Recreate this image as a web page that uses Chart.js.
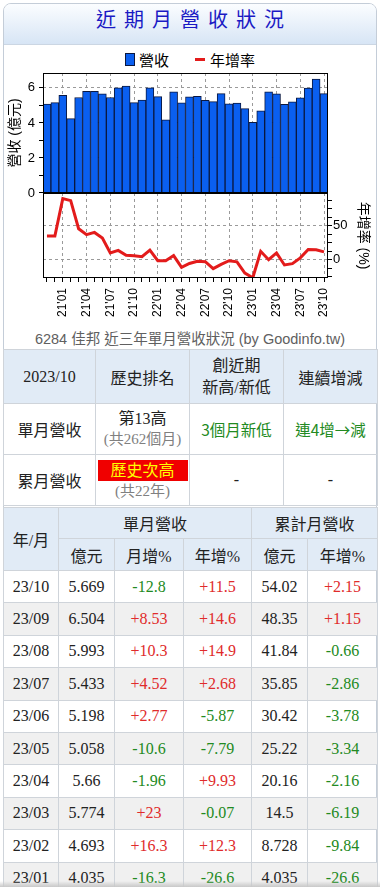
<!DOCTYPE html>
<html lang="zh-Hant">
<head>
<meta charset="utf-8">
<script src="https://cdn.jsdelivr.net/npm/chart.js@4.4.1/dist/chart.umd.min.js"></script>
<style>
  html, body { margin: 0; padding: 0; background: #fff; overflow: hidden; }
  body { width: 380px; height: 887px; position: relative; font-family: "Liberation Sans", "Noto Sans CJK TC", sans-serif; }
  .box { position: absolute; left: 3px; top: 3px; width: 372px; height: 900px; border: 1px solid #c4cdd8; border-radius: 8px 8px 0 0; background: #fff; }
  .hdr { position: absolute; left: 4px; top: 4px; width: 372px; height: 41px; border-radius: 7px 7px 0 0;
         background: linear-gradient(#fbfdff, #d7e5f5); border-bottom: 1px solid #cbd6e3;
         text-align: center; line-height: 45px; font: 20px "Noto Sans CJK TC", sans-serif; color: #1a1ac4;
         letter-spacing: 8px; padding-left: 8px; box-sizing: border-box; }
  .leyenda { position: absolute; left: 4px; top: 46px; width: 372px; height: 26px; display: flex; justify-content: center; align-items: center;
             font: 15px "Noto Sans CJK TC", sans-serif; color: #000; }
  .leyenda .sq { width: 8px; height: 11px; background: #0a5ff0; border: 1px solid #0b1840; margin-right: 4px; }
  .leyenda .ln { width: 10px; height: 3px; background: #e31b1b; margin-left: 26px; margin-right: 5px; }
  .graf { position: absolute; left: 4px; top: 72px; width: 372px; height: 255px; }
  .pie { position: absolute; left: 4px; top: 327px; width: 372px; height: 20px; line-height: 20px; text-align: center;
         font: 14.5px "Liberation Sans", "Noto Sans CJK TC", sans-serif; color: #606060; }
  table { position: absolute; left: 3px; border-collapse: collapse; table-layout: fixed; width: 374px; }
  td { border: 1px solid #cfd4da; padding: 0; text-align: center; vertical-align: middle;
       font: 16px "Liberation Serif", "Noto Sans CJK TC", serif; color: #222; }
  .t1 { top: 349px; }
  .t2 { top: 507px; }
  .hd td { background: #e1ebf6; }
  .sub { color: #808080; font-size: 15px; }
  .rk { display: inline-block; width: 90px; height: 21px; line-height: 21px; background: #f00000; color: #ffff00; }
  .g { color: #228a22; }
  .r { color: #e02b2b; }
  td.sans { font-family: "Noto Sans CJK TC", sans-serif; font-size: 15.5px; }
  .gris td { background: #f0f0f0; }
  .sombra { position: absolute; left: 0; top: 881px; width: 380px; height: 6px; background: linear-gradient(rgba(200,200,200,0), #c8c8c8); }
</style>
</head>
<body>
<div class="box"></div>
<div class="hdr">近期月營收狀況</div>
<div class="leyenda"><span class="sq"></span>營收<span class="ln"></span>年增率</div>
<div class="graf"><canvas id="grafico" width="372" height="255"></canvas></div>
<div class="pie">6284 佳邦 近三年單月營收狀況 (by Goodinfo.tw)</div>

<table class="t1">
  <colgroup><col style="width:92px"><col style="width:94px"><col style="width:94px"><col style="width:94px"></colgroup>
  <tr class="hd"><td style="height:53px">2023/10</td><td>歷史排名</td><td style="line-height:22px">創近期<br>新高/新低</td><td>連續增減</td></tr>
  <tr><td style="height:50px">單月營收</td><td style="line-height:20px">第13高<br><span class="sub">(共262個月)</span></td><td class="g sans">3個月新低</td><td class="g sans">連4增→減</td></tr>
  <tr><td style="height:50px">累月營收</td><td style="line-height:20px"><span class="rk">歷史次高</span><br><span class="sub">(共22年)</span></td><td>-</td><td>-</td></tr>
</table>

<table class="t2" id="tabla">
  <colgroup><col style="width:55px"><col style="width:56px"><col style="width:69px"><col style="width:68px"><col style="width:56px"><col style="width:70px"></colgroup>
  <tr class="hd"><td rowspan="2">年/月</td><td colspan="3" style="height:30px">單月營收</td><td colspan="2">累計月營收</td></tr>
  <tr class="hd"><td style="height:31px">億元</td><td>月增%</td><td>年增%</td><td>億元</td><td>年增%</td></tr>
</table>
<div class="sombra"></div>

<script>
/* ===================== DATOS DEL GRÁFICO ===================== */
const meses = [
  "20'11", "20'12",
  "21'01", "21'02", "21'03", "21'04", "21'05", "21'06", "21'07", "21'08", "21'09", "21'10", "21'11", "21'12",
  "22'01", "22'02", "22'03", "22'04", "22'05", "22'06", "22'07", "22'08", "22'09", "22'10", "22'11", "22'12",
  "23'01", "23'02", "23'03", "23'04", "23'05", "23'06", "23'07", "23'08", "23'09", "23'10",
];

// 營收 (億元)
const ingresos = [
  5.07, 5.16,
  5.58, 4.25, 5.45, 5.81, 5.81, 5.66, 5.45, 6.0, 6.1, 5.16, 5.31, 6.0,
  5.497, 4.179, 5.778, 5.149, 5.485, 5.522, 5.291, 5.216, 5.675, 5.084, 5.14, 4.82,
  4.035, 4.693, 5.774, 5.66, 5.058, 5.198, 5.433, 5.993, 6.504, 5.669,
];

// 年增率 (%)
const crecimiento = [
  35, 35,
  90, 87, 45.6, 36.8, 40.2, 32, 9.8, 13.7, 6.4, 5.9, 4.4, 14.2,
  -1.5, -1.7, 6.0, -11.4, -5.6, -2.4, -2.9, -13.1, -7.0, -1.5, -3.2, -19.7,
  -26.6, 12.3, -0.07, 9.93, -7.79, -5.87, 2.68, 14.9, 14.6, 11.5,
];

const mesesEtiqueta = ["01", "04", "07", "10"];

/* ===================== DATOS DE LA TABLA ===================== */
const tablaMes = ["23/10", "23/09", "23/08", "23/07", "23/06", "23/05", "23/04", "23/03", "23/02", "23/01"];
const tablaMonto = ["5.669", "6.504", "5.993", "5.433", "5.198", "5.058", "5.66", "5.774", "4.693", "4.035"];
const tablaMensual = ["-12.8", "+8.53", "+10.3", "+4.52", "+2.77", "-10.6", "-1.96", "+23", "+16.3", "-16.3"];
const tablaAnual = ["+11.5", "+14.6", "+14.9", "+2.68", "-5.87", "-7.79", "+9.93", "-0.07", "+12.3", "-26.6"];
const tablaAcum = ["54.02", "48.35", "41.84", "35.85", "30.42", "25.22", "20.16", "14.5", "8.728", "4.035"];
const tablaAcumAnual = ["+2.15", "+1.15", "-0.66", "-2.86", "-3.78", "-3.34", "-2.16", "-6.19", "-9.84", "-26.6"];

function color(v) {
  return v.startsWith("-") ? "g" : "r";
}

const tabla = document.getElementById("tabla");
tablaMes.forEach((m, i) => {
  const tr = document.createElement("tr");
  if (i % 2 === 1) tr.className = "gris";
  tr.innerHTML =
    `<td style="height:31.4px">${m}</td>` +
    `<td>${tablaMonto[i]}</td>` +
    `<td class="${color(tablaMensual[i])}">${tablaMensual[i]}</td>` +
    `<td class="${color(tablaAnual[i])}">${tablaAnual[i]}</td>` +
    `<td>${tablaAcum[i]}</td>` +
    `<td class="${color(tablaAcumAnual[i])}">${tablaAcumAnual[i]}</td>`;
  tabla.appendChild(tr);
});

/* ===================== GRÁFICO ===================== */
Chart.defaults.font.family = '"Liberation Sans", "Noto Sans CJK TC", sans-serif';
Chart.defaults.color = "#000";

const conEtiqueta = (i) => mesesEtiqueta.includes(meses[i].slice(3));

const anchoIzq = (s) => { s.width = 39; s.paddingTop = 0; s.paddingBottom = 0; };
const anchoDer = (s) => { s.width = 48; s.paddingTop = 0; s.paddingBottom = 0; };

// marco negro del área + línea base de las barras
const marco = {
  id: "marco",
  afterDatasetsDraw(chart) {
    const { ctx, chartArea: a, scales } = chart;
    ctx.save();
    ctx.strokeStyle = "#000";
    ctx.lineWidth = 1;
    ctx.strokeRect(a.left + 0.5, a.top + 0.5, a.width - 1, a.height - 1);
    ctx.lineWidth = 2;
    ctx.beginPath();
    const y0 = scales.yBar.getPixelForValue(0);
    ctx.moveTo(a.left, y0);
    ctx.lineTo(a.right, y0);
    ctx.stroke();
    ctx.restore();
  },
};

new Chart(document.getElementById("grafico"), {
  type: "bar",
  data: {
    labels: meses,
    datasets: [
      {
        type: "line",
        label: "年增率",
        data: crecimiento,
        yAxisID: "yRate",
        borderColor: "#e31b1b",
        borderWidth: 3,
        pointRadius: 0,
        tension: 0,
        order: 0,
      },
      {
        label: "營收",
        data: ingresos,
        yAxisID: "yBar",
        backgroundColor: "#0a5ff0",
        borderColor: "#0b1840",
        borderWidth: 1,
        categoryPercentage: 1,
        barPercentage: 1,
        order: 1,
      },
    ],
  },
  plugins: [marco],
  options: {
    responsive: false,
    animation: false,
    layout: { padding: { top: 1, left: 0, right: 0, bottom: 0 } },
    plugins: { legend: { display: false }, tooltip: { enabled: false } },
    scales: {
      x: {
        grid: {
          offset: false,
          color: (c) => (conEtiqueta(c.index) ? "#9a9a9a" : "transparent"),
          tickColor: "#000",
          tickLength: 4,
        },
        border: { display: false, dash: [3, 3] },
        ticks: {
          autoSkip: false,
          minRotation: 90,
          maxRotation: 90,
          padding: 6,
          font: { size: 12 },
          callback: (v, i) => (conEtiqueta(i) ? meses[i] : ""),
        },
        afterFit: (s) => { s.height = 49; s.paddingLeft = 0; s.paddingRight = 0; },
      },
      yL2: {
        position: "left",
        stack: "L",
        stackWeight: 85,
        ticks: { display: false },
        grid: { display: false },
        border: { display: false },
        afterFit: anchoIzq,
      },
      yBar: {
        position: "left",
        stack: "L",
        stackWeight: 120,
        min: 0,
        max: 6.85,
        ticks: {
          stepSize: 1,
          includeBounds: false,
          autoSkip: false,
          padding: 4,
          font: { size: 13 },
          callback: (v) => (v % 2 === 0 ? v : ""),
        },
        grid: {
          color: (c) => (c.tick && c.tick.value > 0 && c.tick.value % 2 === 0 ? "#9a9a9a" : "transparent"),
          tickColor: "#000",
          tickLength: 4,
        },
        border: { display: false, dash: [3, 3] },
        title: { display: true, text: "營收 (億元)", font: { size: 14 }, padding: { top: 3, bottom: 0 } },
        afterFit: anchoIzq,
      },
      yR1: {
        position: "right",
        stack: "R",
        stackWeight: 120,
        ticks: { display: false },
        grid: { display: false },
        border: { display: false },
        afterFit: anchoDer,
      },
      yRate: {
        position: "right",
        stack: "R",
        stackWeight: 85,
        min: -27,
        max: 98.3,
        ticks: {
          stepSize: 12.5,
          includeBounds: false,
          autoSkip: false,
          padding: 1,
          font: { size: 13 },
          callback: (v) => (v === 0 || v === 50 ? v : ""),
        },
        grid: {
          color: (c) => (c.tick && (c.tick.value === 0 || c.tick.value === 50) ? "#9a9a9a" : "transparent"),
          tickColor: "#000",
          tickLength: 4,
        },
        border: { display: false, dash: [3, 3] },
        title: { display: true, text: "年增率 (%)", font: { size: 14 }, padding: { top: 5, bottom: 0 } },
        afterFit: anchoDer,
      },
    },
  },
});
</script>
</body>
</html>
